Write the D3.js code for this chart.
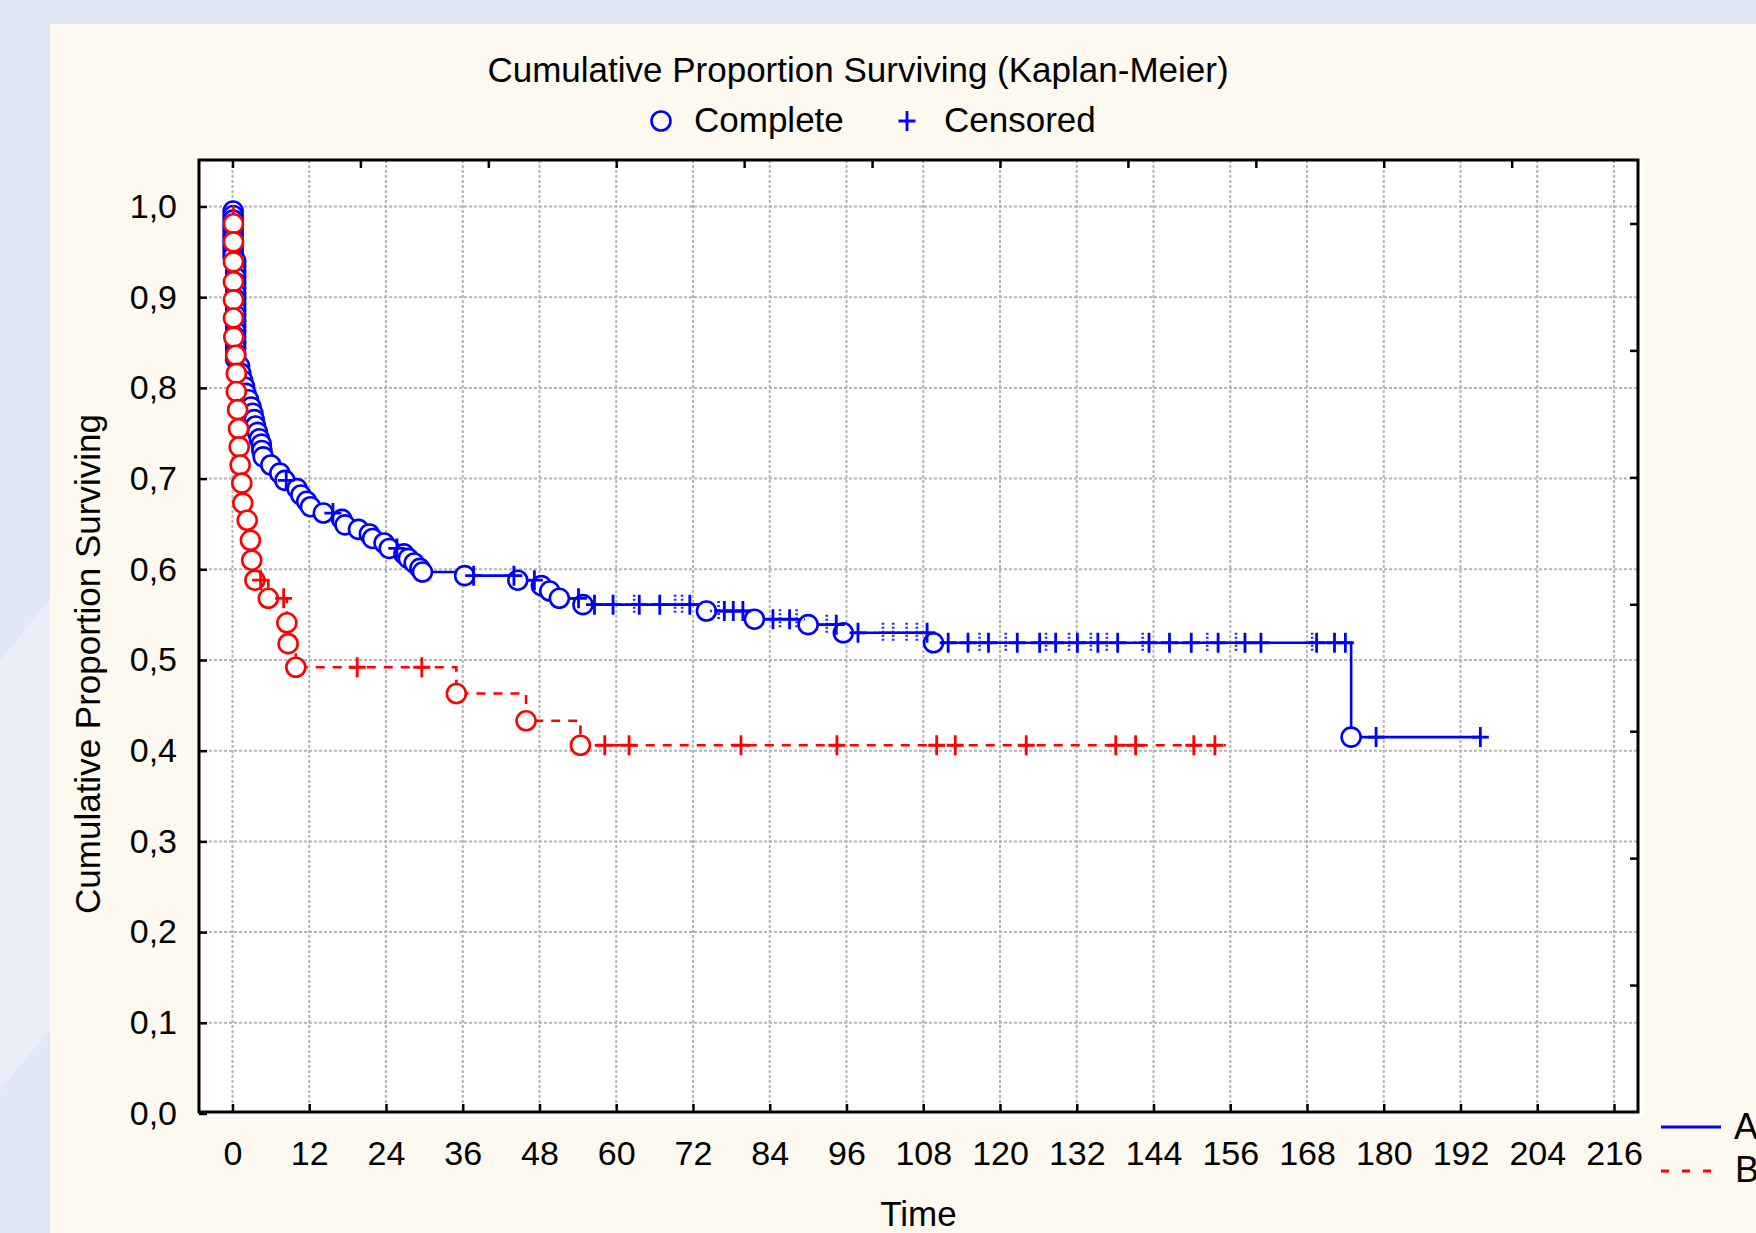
<!DOCTYPE html>
<html>
<head>
<meta charset="utf-8">
<script src="https://cdn.jsdelivr.net/npm/d3@7"></script>
<style>
    body { margin: 0; background: #e1e8f5; overflow: hidden; }
    svg { display: block; font-family: "Liberation Sans", Arial, sans-serif; }
</style>
</head>
<body>
<div id="chart-area"></div>
<script>
const width = 1756, height = 1233;
const plot = ({top: 160, right: 1638, bottom: 1112, left: 199});

// Group A (blue): complete events and censored times
const aEventTimes = [0.1, 0.1, 0.1, 0.1, 0.1, 0.1, 0.1, 0.1, 0.1, 0.1, 0.1,
    0.5, 0.5, 0.5, 0.5, 0.5, 0.5, 0.5, 0.5, 0.5, 0.5, 0.5, 0.5, 0.5, 0.5, 0.5, 0.5, 0.5, 0.5, 0.5,
    1.1, 1.3, 1.6, 1.9, 2.1, 2.5, 2.9, 3.2, 3.4, 3.6, 3.9, 4.2, 4.5, 4.6, 4.8,
    6.0, 7.4, 8.2, 10.1, 10.7, 11.6, 12.2, 14.2, 17.1, 17.6, 19.7, 21.4, 21.9, 23.7, 24.5,
    26.8, 27.5, 28.4, 29.3, 29.7, 36.3, 44.6, 48.3, 49.6, 51.1, 54.8,
    74.1, 81.6, 90.0, 95.5, 109.6, 174.9];
const aEventSurv = [0.995, 0.990, 0.985, 0.980, 0.975, 0.970, 0.965, 0.960, 0.955, 0.950, 0.945,
    0.940, 0.934, 0.928, 0.922, 0.916, 0.910, 0.904, 0.898, 0.892, 0.886, 0.880, 0.874, 0.868, 0.862, 0.856, 0.850, 0.844, 0.838, 0.832,
    0.824, 0.816, 0.808, 0.801, 0.794, 0.787, 0.779, 0.772, 0.765, 0.758, 0.751, 0.744, 0.738, 0.731, 0.724,
    0.715, 0.706, 0.698, 0.689, 0.682, 0.675, 0.669, 0.662, 0.655, 0.649, 0.644, 0.639, 0.634, 0.629, 0.623,
    0.617, 0.612, 0.607, 0.601, 0.597, 0.593, 0.588, 0.582, 0.576, 0.568, 0.561,
    0.554, 0.545, 0.539, 0.530, 0.519, 0.415];
const aCensored = [8.4, 15.7, 25.7, 37.7, 44.0, 47.2, 54.1, 56.6, 59.5, 63.6, 66.8, 71.5,
    76.9, 78.3, 79.8, 84.5, 87.1, 94.4, 97.8, 108.6, 111.9, 115.0, 118.2, 122.7, 126.2,
    128.7, 132.1, 135.3, 138.4, 143.3, 146.5, 149.9, 154.1, 158.3, 160.8, 169.5, 172.3,
    174.0, 178.8, 195.1];
const aCensoredDense = [62.8, 69.2, 70.3, 76.0, 85.6, 88.2, 92.9, 101.7, 103.3, 105.4, 107.0,
    116.8, 120.9, 127.2, 130.8, 134.2, 136.7, 142.3, 152.4, 156.9, 168.8];
const aEnd = 195.1;

// Group B (red)
const bEventTimes = [0.15, 0.15, 0.15, 0.15, 0.15, 0.15, 0.2, 0.5, 0.6, 0.6, 0.8, 0.95, 1.05, 1.2,
    1.45, 1.6, 2.3, 2.8, 3.0, 3.5, 5.6, 8.5, 8.7, 9.9, 35.0, 45.9, 54.4];
const bEventSurv = [0.981, 0.961, 0.939, 0.917, 0.897, 0.877, 0.856, 0.836, 0.816, 0.796, 0.776, 0.755, 0.735, 0.715,
    0.695, 0.673, 0.654, 0.632, 0.610, 0.588, 0.568, 0.541, 0.518, 0.492, 0.463, 0.433, 0.406];
const bCensored = [4.4, 8.0, 19.5, 29.6, 58.2, 62.0, 79.5, 94.5, 110.1, 113.0, 124.1, 138.1,
    141.2, 150.3, 153.6];
const bEnd = 155.3;

const xTicks = [0, 12, 24, 36, 48, 60, 72, 84, 96, 108, 120, 132, 144, 156, 168, 180, 192, 204, 216];
const yTicks = [0, 0.1, 0.2, 0.3, 0.4, 0.5, 0.6, 0.7, 0.8, 0.9, 1.0];
const topTicks = [0, 20, 40, 60, 80, 100, 120, 140, 160, 180, 200];
const rightTicks = [1, 2, 3, 4, 5, 6, 7];

// -----------------------------------------------------------------------------------------------------------------

const x = d3.scaleLinear().domain([0, 216]).range([232.5, 1614]);
const y = d3.scaleLinear().domain([0, 1]).range([1113.5, 206.5]);
const yRight = d3.scaleLinear().domain([0, 7.5]).range([plot.bottom, plot.top]);

const svg = d3.select("#chart-area").append("svg")
    .attr("width", width)
    .attr("height", height);

// backgrounds
svg.append("rect").attr("width", width).attr("height", height).attr("fill", "#e1e8f5");
svg.append("path").attr("d", "M0,661L50,599L50,1030L0,1090Z").attr("fill", "#e9eef8");
svg.append("rect").attr("x", 50).attr("y", 24).attr("width", width - 50).attr("height", height - 24)
    .attr("fill", "#fdf9ee");
svg.append("rect")
    .attr("x", plot.left).attr("y", plot.top)
    .attr("width", plot.right - plot.left + 6).attr("height", plot.bottom - plot.top + 5)
    .attr("fill", "#fff");

// grid
const grid = svg.append("g")
    .attr("stroke", "#b4b4b4")
    .attr("stroke-width", 2)
    .attr("stroke-dasharray", "3,2");
grid.selectAll(".vx").data(xTicks).enter().append("line")
    .attr("x1", d => x(d)).attr("x2", d => x(d))
    .attr("y1", plot.top).attr("y2", plot.bottom);
grid.selectAll(".hy").data(yTicks.slice(1)).enter().append("line")
    .attr("x1", plot.left).attr("x2", plot.right)
    .attr("y1", d => y(d)).attr("y2", d => y(d));

// axes (ticks point inward)
const xAxis = g => g
    .attr("transform", `translate(0,${plot.bottom})`)
    .call(d3.axisBottom(x).tickValues(xTicks).tickSizeInner(-8).tickSizeOuter(0))
    .call(g => g.select(".domain").remove())
    .call(g => g.selectAll("text").attr("y", 53).attr("dy", null));

const yAxis = g => g
    .attr("transform", `translate(${plot.left},0)`)
    .call(d3.axisLeft(y).tickValues(yTicks).tickSizeInner(-8).tickSizeOuter(0)
        .tickFormat(d => d3.format(".1f")(d).replace(".", ",")))
    .call(g => g.select(".domain").remove())
    .call(g => g.selectAll("text").attr("x", -22));

const topAxis = g => g
    .attr("transform", `translate(0,${plot.top})`)
    .call(d3.axisTop(x).tickValues(topTicks).tickSizeInner(-8).tickSizeOuter(0).tickFormat(""))
    .call(g => g.select(".domain").remove());

const rightAxis = g => g
    .attr("transform", `translate(${plot.right},0)`)
    .call(d3.axisRight(yRight).tickValues(rightTicks).tickSizeInner(-8).tickSizeOuter(0).tickFormat(""))
    .call(g => g.select(".domain").remove());

[xAxis, yAxis, topAxis, rightAxis].forEach(a => {
    svg.append("g").call(a)
        .call(g => g.selectAll("line").attr("stroke", "#000").attr("stroke-width", 2.5))
        .call(g => g.selectAll("text").attr("fill", "#000").attr("font-size", 34)
            .attr("font-family", "Liberation Sans, Arial, sans-serif"));
});

svg.append("rect")
    .attr("x", plot.left).attr("y", plot.top)
    .attr("width", plot.right - plot.left).attr("height", plot.bottom - plot.top)
    .attr("fill", "none").attr("stroke", "#000").attr("stroke-width", 3);

// Kaplan-Meier curves
const line = d3.line()
    .curve(d3.curveStepAfter)
    .x(d => x(d[0]))
    .y(d => y(d[1]));

const survAt = (times, survs, t) => {
    let s = 1;
    times.forEach((tt, i) => { if (tt <= t) s = survs[i]; });
    return s;
};

const plus = "M-8.5,0H8.5M0,-10V10";

function drawGroup(color, dash, times, survs, censored, dense, end) {
    const pts = [[0, 1]].concat(times.map((t, i) => [t, survs[i]]));
    pts.push([end, survs[survs.length - 1]]);

    svg.append("path")
        .attr("d", line(pts))
        .attr("fill", "none")
        .attr("stroke", color)
        .attr("stroke-width", 2.6)
        .attr("stroke-dasharray", dash);

    svg.append("g").selectAll("circle")
        .data(times.map((t, i) => [t, survs[i]]))
        .enter().append("circle")
            .attr("cx", d => x(d[0]))
            .attr("cy", d => y(d[1]))
            .attr("r", 9.5)
            .attr("fill", "#fff")
            .attr("stroke", color)
            .attr("stroke-width", 2.6);

    svg.append("g").attr("stroke", color).attr("stroke-width", 2.8).attr("fill", "none")
        .selectAll("path")
        .data(censored)
        .enter().append("path")
            .attr("transform", d => `translate(${x(d)},${y(survAt(times, survs, d))})`)
            .attr("d", plus);

    svg.append("g").attr("stroke", color).attr("stroke-width", 2.6).attr("fill", "none")
        .attr("stroke-dasharray", "2,2").attr("opacity", 0.85)
        .selectAll("path")
        .data(dense)
        .enter().append("path")
            .attr("transform", d => `translate(${x(d)},${y(survAt(times, survs, d))})`)
            .attr("d", plus);
}

drawGroup("#0000ff", null, aEventTimes, aEventSurv, aCensored, aCensoredDense, aEnd);
drawGroup("#ff0000", "9,8", bEventTimes, bEventSurv, bCensored, [], bEnd);

// titles
svg.append("text")
    .attr("x", 858).attr("y", 82)
    .attr("text-anchor", "middle")
    .attr("font-size", 35)
    .text("Cumulative Proportion Surviving (Kaplan-Meier)");

svg.append("text")
    .attr("x", (plot.left + plot.right) / 2).attr("y", 1226)
    .attr("text-anchor", "middle")
    .attr("font-size", 35)
    .text("Time");

svg.append("text")
    .attr("transform", "translate(100,664) rotate(-90)")
    .attr("text-anchor", "middle")
    .attr("font-size", 35)
    .text("Cumulative Proportion Surviving");

// marker legend
svg.append("circle").attr("cx", 661).attr("cy", 121).attr("r", 9.5)
    .attr("fill", "none").attr("stroke", "#0000ff").attr("stroke-width", 2.6);
svg.append("text").attr("x", 694).attr("y", 132).attr("font-size", 35).text("Complete");
svg.append("path").attr("transform", "translate(907,121)").attr("d", plus)
    .attr("stroke", "#0000ff").attr("stroke-width", 2.8);
svg.append("text").attr("x", 944).attr("y", 132).attr("font-size", 35).text("Censored");

// group legend (cut at the right edge, as in the original export)
svg.append("line").attr("x1", 1661).attr("x2", 1721).attr("y1", 1127).attr("y2", 1127)
    .attr("stroke", "#0000ff").attr("stroke-width", 3);
svg.append("text").attr("x", 1734).attr("y", 1139).attr("font-size", 36).text("A");
svg.append("line").attr("x1", 1661).attr("x2", 1716).attr("y1", 1171).attr("y2", 1171)
    .attr("stroke", "#ff0000").attr("stroke-width", 3).attr("stroke-dasharray", "8,13");
svg.append("text").attr("x", 1735).attr("y", 1182).attr("font-size", 36).text("B");
</script>
</body>
</html>
